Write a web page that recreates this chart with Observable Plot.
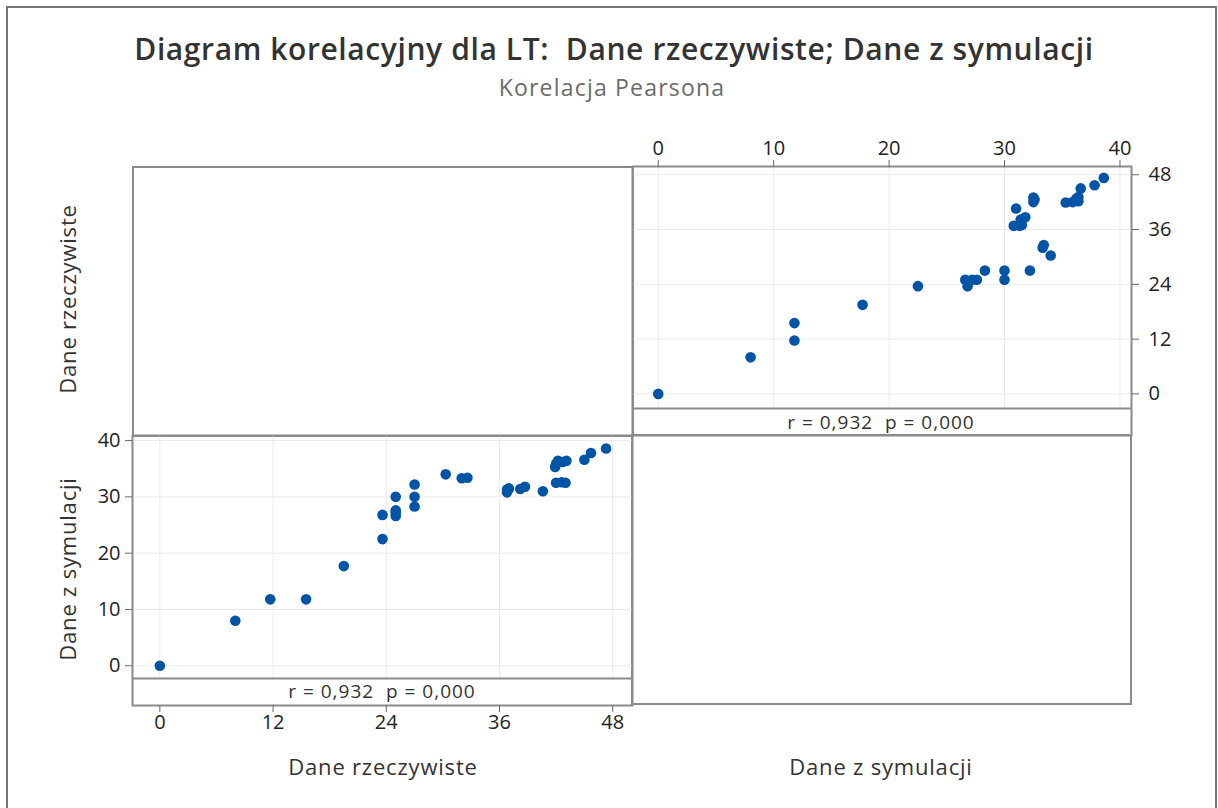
<!DOCTYPE html>
<html><head><meta charset="utf-8">
<script src="https://cdn.jsdelivr.net/npm/d3@7"></script>
<script src="https://cdn.jsdelivr.net/npm/@observablehq/plot@0.6"></script>
<style>
body{margin:0;background:#fff;}
#root{position:relative;width:1218px;height:808px;overflow:hidden;background:#fff;font-family:"Open Sans",sans-serif;color:#333;}
.abs{position:absolute;}
#outer{left:6px;top:6px;width:1211px;height:900px;border:2px solid #777;box-sizing:border-box;}
.panel{border:2px solid #8a8a8a;box-sizing:border-box;}
.vlab{width:300px;height:30px;line-height:30px;text-align:center;font-size:22px;letter-spacing:0.8px;color:#333;transform:rotate(-90deg);transform-origin:50% 50%;}
.hlab{width:300px;text-align:center;font-size:22px;letter-spacing:0.8px;color:#333;line-height:1.362;}
.strip{width:400px;height:26px;line-height:26px;text-align:center;font-size:19px;letter-spacing:1px;color:#333;white-space:pre;}
svg{overflow:visible;}
</style></head>
<body>
<div id="root">
  <div id="outer" class="abs"></div>
  <div class="abs" id="title" style="left:0;top:29px;width:1228px;text-align:center;font-size:30px;line-height:1.362;font-weight:600;letter-spacing:0.6px;color:#333;">Diagram korelacyjny dla LT:&nbsp; Dane rzeczywiste; Dane z symulacji</div>
  <div class="abs" id="subtitle" style="left:0;top:72px;width:1224px;text-align:center;font-size:23px;line-height:1.362;letter-spacing:1.2px;color:#6b6b6b;">Korelacja Pearsona</div>
  <div class="abs panel" style="left:132px;top:166px;width:502px;height:271px;"></div>
  <div class="abs panel" style="left:631px;top:434px;width:501px;height:271px;"></div>
  <div class="abs vlab" style="left:-83px;top:284px;">Dane rzeczywiste</div>
  <div class="abs vlab" style="left:-83px;top:554px;">Dane z symulacji</div>
  <div class="abs hlab" style="left:233px;top:752px;">Dane rzeczywiste</div>
  <div class="abs hlab" style="left:731px;top:752px;">Dane z symulacji</div>
  <div class="abs strip" id="stripLL" style="left:182px;top:678px;"></div>
  <div class="abs strip" id="stripUR" style="left:681px;top:409px;"></div>
  <div class="abs" id="ll" style="left:72px;top:434px;"></div>
  <div class="abs" id="ur" style="left:630px;top:126px;"></div>
</div>
<script>
// Data
const daneRzeczywiste = [0, 8, 11.7, 15.5, 19.5, 23.6, 23.6, 25, 25, 25, 25, 27, 27, 27, 30.3, 32.0, 32.6, 36.8, 36.8, 37.0, 38.2, 38.7, 40.6, 42.0, 42.6, 43.0, 41.9, 42.0, 42.2, 42.7, 43.1, 45.0, 45.7, 47.3];
const daneSymulacji  = [0, 8, 11.8, 11.8, 17.7, 22.5, 26.8, 26.6, 27.2, 27.6, 30, 28.3, 30, 32.2, 34.0, 33.3, 33.4, 30.8, 31.3, 31.5, 31.4, 31.8, 31.0, 32.5, 32.6, 32.5, 35.3, 35.9, 36.4, 36.2, 36.4, 36.6, 37.8, 38.6];
const realTicks = [0, 12, 24, 36, 48];
const simTicks = [0, 10, 20, 30, 40];
const stripLabel = "r = 0,932  p = 0,000";

document.getElementById("stripLL").textContent = stripLabel;
document.getElementById("stripUR").textContent = stripLabel;

const data = daneRzeczywiste.map((r, i) => ({real: r, sim: daneSymulacji[i]}));

const dotColor = "#0054a6";
const gridColor = "#ebebeb";
const frameColor = "#8a8a8a";
const style = {fontFamily: "Open Sans", fontSize: "20px", color: "#333", background: "transparent", overflow: "visible"};

const llYmin = -2.26;
const ll = Plot.plot({
  width: 562, height: 310,
  marginLeft: 60, marginRight: 2, marginTop: 1, marginBottom: 39,
  x: {domain: [-2.9, 50.1]},
  y: {domain: [llYmin, 40.9], insetBottom: 27},
  style,
  marks: [
    Plot.gridX(realTicks, {stroke: gridColor, strokeOpacity: 1, insetBottom: 27}),
    Plot.gridY(simTicks, {stroke: gridColor, strokeOpacity: 1}),
    Plot.ruleY([llYmin], {stroke: frameColor, strokeWidth: 2}),
    Plot.dot(data, {x: "real", y: "sim", r: 5.3, fill: dotColor}),
    Plot.frame({stroke: frameColor, strokeWidth: 2}),
    Plot.axisX(realTicks, {tickSize: 7, tickFormat: () => "", label: null, stroke: "#666"}),
    Plot.text(realTicks, {x: (d) => d, frameAnchor: "bottom", dy: 23, fontSize: 20, fill: "#222", text: (d) => String(d)}),
    Plot.axisY(simTicks, {tickSize: 7, tickPadding: 5, label: null, stroke: "#666", fill: "#222", fontSize: 20})
  ]
});
document.getElementById("ll").append(ll);

const urYmin = -3.2;
const ur = Plot.plot({
  width: 552, height: 310,
  marginLeft: 2, marginRight: 51, marginTop: 40, marginBottom: 1,
  x: {domain: [-2.23, 41.0]},
  y: {domain: [urYmin, 49.8], insetBottom: 27},
  style,
  marks: [
    Plot.gridX(simTicks, {stroke: gridColor, strokeOpacity: 1, insetBottom: 27}),
    Plot.gridY(realTicks, {stroke: gridColor, strokeOpacity: 1}),
    Plot.ruleY([urYmin], {stroke: frameColor, strokeWidth: 2}),
    Plot.dot(data, {x: "sim", y: "real", r: 5.3, fill: dotColor}),
    Plot.frame({stroke: frameColor, strokeWidth: 2}),
    Plot.axisX(simTicks, {anchor: "top", tickSize: 7, tickPadding: 5, label: null, stroke: "#666", fill: "#222", fontSize: 20}),
    Plot.axisY(realTicks, {anchor: "right", tickSize: 7, tickPadding: 10, label: null, stroke: "#666", fill: "#222", fontSize: 20})
  ]
});
document.getElementById("ur").append(ur);
</script>
</body></html>
